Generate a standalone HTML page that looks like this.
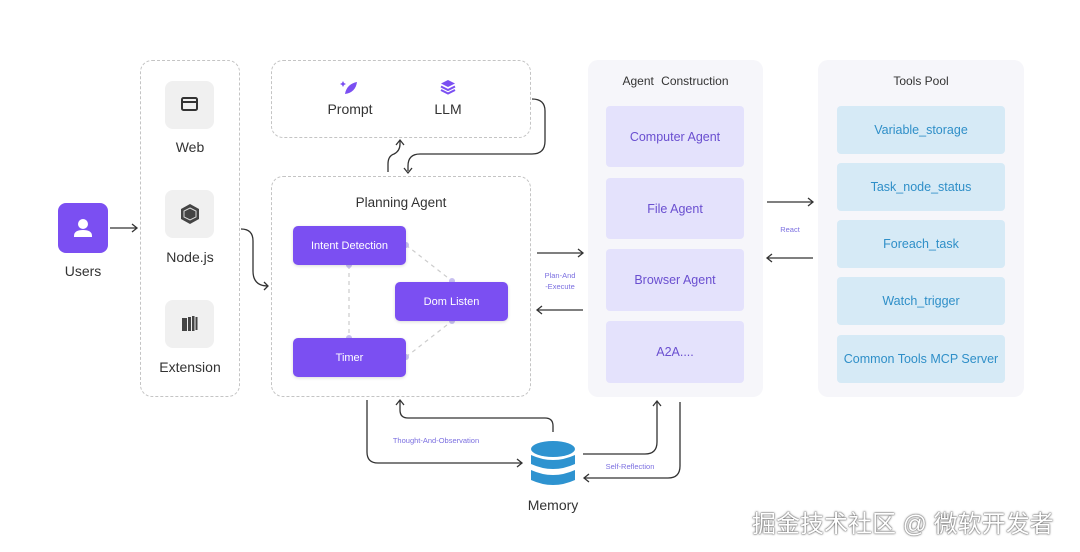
<!DOCTYPE html>
<html><head><meta charset="utf-8"><style>
body{margin:0;width:1080px;height:552px;background:#fff;position:relative;overflow:hidden;font-family:"Liberation Sans","Noto Sans CJK SC",sans-serif}
.a{position:absolute;box-sizing:border-box}
.dash{border:1.3px dashed #c4c4c4;border-radius:12px}
.t{position:absolute;text-align:center;color:#333}
.tile{background:#f0f0f0;border-radius:8px}
.pb{background:#7b4ff2;border-radius:5px;color:#fff;font-size:11px;display:flex;align-items:center;justify-content:center;box-shadow:0 1px 3px rgba(0,0,0,.15)}
.ag{background:#e4e2fc;border-radius:4px;color:#6a4fd0;font-size:12.5px;display:flex;align-items:center;justify-content:center}
.tl{background:#d6eaf6;border-radius:4px;color:#2f8fc8;font-size:12.5px;display:flex;align-items:center;justify-content:center}
.panel{background:#f6f6fa;border-radius:10px}
</style></head><body>
<div class="a" style="left:58px;top:203px;width:50px;height:50px;background:#7b4ff2;border-radius:8px"></div>
<svg class="a" style="left:58px;top:203px" width="50" height="50"><circle cx="25" cy="21" r="5" fill="#fff"/><path d="M16 33 q0-6 9-6 q9 0 9 6 v1 h-18z" fill="#fff"/></svg>
<div class="t" style="left:50px;width:66px;top:263px;font-size:14px">Users</div>

<div class="a dash" style="left:140px;top:60px;width:100px;height:337px"></div>
<div class="a tile" style="left:165px;top:81px;width:49px;height:48px"></div>
<svg class="a" style="left:180px;top:96px" width="20" height="18"><rect x="2" y="2" width="15" height="12" rx="1.5" fill="none" stroke="#333" stroke-width="2"/><line x1="2" y1="6" x2="17" y2="6" stroke="#333" stroke-width="2"/></svg>
<div class="t" style="left:150px;width:80px;top:139px;font-size:14px">Web</div>
<div class="a tile" style="left:165px;top:190px;width:49px;height:48px"></div>
<svg class="a" style="left:179px;top:203px" width="22" height="22"><polygon points="11,1 20,6 20,16 11,21 2,16 2,6" fill="#444"/><polygon points="11,5 17,8 17,14 11,17 5,14 5,8" fill="none" stroke="#ddd" stroke-width="1"/></svg>
<div class="t" style="left:150px;width:80px;top:249px;font-size:14px">Node.js</div>
<div class="a tile" style="left:165px;top:300px;width:49px;height:48px"></div>
<svg class="a" style="left:180px;top:314px" width="20" height="20"><rect x="2" y="4" width="5" height="13" fill="#444"/><rect x="8" y="3" width="3" height="14" fill="#444"/><rect x="12" y="2" width="2.5" height="15" fill="#444"/><rect x="15.5" y="3" width="2" height="13" fill="#444"/></svg>
<div class="t" style="left:140px;width:100px;top:359px;font-size:14px">Extension</div>

<div class="a dash" style="left:271px;top:60px;width:260px;height:78px"></div>
<svg class="a" style="left:340px;top:79px" width="20" height="18"><path d="M5 15 C6 8 11 4 17 3 C16 10 12 14 5 15z" fill="#7b4ff2"/><path d="M3 2 l1 2 2 1 -2 1 -1 2 -1-2 -2-1 2-1z" fill="#7b4ff2"/></svg>
<div class="t" style="left:310px;width:80px;top:101px;font-size:14px">Prompt</div>
<svg class="a" style="left:440px;top:79px" width="16" height="16"><path d="M8 1 L15 4.5 8 8 1 4.5z" fill="#7b4ff2"/><path d="M1 7.5 L8 11 15 7.5" fill="none" stroke="#7b4ff2" stroke-width="2"/><path d="M1 11 L8 14.5 15 11" fill="none" stroke="#7b4ff2" stroke-width="2"/></svg>
<div class="t" style="left:408px;width:80px;top:101px;font-size:14px">LLM</div>

<div class="a dash" style="left:271px;top:176px;width:260px;height:221px"></div>
<div class="t" style="left:271px;width:260px;top:195px;font-size:13.5px">Planning Agent</div>
<svg class="a" style="left:0;top:0" width="1080" height="552">
<g stroke="#ccc" stroke-width="1.2" stroke-dasharray="4 4" fill="none">
<line x1="349" y1="265" x2="349" y2="338"/><line x1="406" y1="245" x2="452" y2="281"/><line x1="406" y1="357" x2="452" y2="321"/></g>
<g fill="#c8c0f0"><circle cx="349" cy="265" r="3"/><circle cx="349" cy="338" r="3"/><circle cx="406" cy="245" r="3"/><circle cx="452" cy="281" r="3"/><circle cx="406" cy="357" r="3"/><circle cx="452" cy="321" r="3"/></g>
<g stroke="#333" stroke-width="1.3" fill="none">
<line x1="110" y1="228" x2="137" y2="228"/><path d="M132 224 L137 228 132 232"/>
<path d="M241 229 q12 0 12 12 v30 q0 15 15 15"/><path d="M264 282 L268 286 264 290"/>
<path d="M388 172 v-8 q0-8 6-10 q6-3 6-10 v-4"/><path d="M396 145 L400 140 404 145"/>
<path d="M532 99 q13 0 13 12 v30 q0 13 -13 13 h-112 q-12 0 -12 12 v5"/><path d="M404 168 L408 173 412 168"/>
<line x1="537" y1="253" x2="583" y2="253"/><path d="M578 249 L583 253 578 257"/>
<line x1="583" y1="310" x2="537" y2="310"/><path d="M542 306 L537 310 542 314"/>
<line x1="767" y1="202" x2="813" y2="202"/><path d="M808 198 L813 202 808 206"/>
<line x1="813" y1="258" x2="767" y2="258"/><path d="M772 254 L767 258 772 262"/>
<path d="M367 400 v52 q0 11 11 11 h144"/><path d="M517 459 L522 463 517 467"/>
<path d="M553 432 v-6 q0-8 -8-8 h-137 q-8 0 -8-8 v-10"/><path d="M396 405 L400 400 404 405"/>
<path d="M583 454 h62 q12 0 12-12 v-40"/><path d="M653 406 L657 401 661 406"/>
<path d="M680 402 v64 q0 12 -12 12 h-84"/><path d="M589 474 L584 478 589 482"/>
</g>
<g fill="#2e93d0"><ellipse cx="553" cy="449" rx="22" ry="8"/><path d="M531 455 q22 10 44 0 v9 q-22 10 -44 0z"/><path d="M531 470 q22 10 44 0 v10 q-22 10 -44 0z"/></g>
</svg>
<div class="a pb" style="left:293px;top:226px;width:113px;height:39px">Intent Detection</div>
<div class="a pb" style="left:395px;top:282px;width:113px;height:39px">Dom Listen</div>
<div class="a pb" style="left:293px;top:338px;width:113px;height:39px">Timer</div>
<div class="t" style="left:535px;width:50px;top:270px;font-size:7.5px;color:#7b6fe0;line-height:11px">Plan-And<br>-Execute</div>
<div class="t" style="left:770px;width:40px;top:225px;font-size:7.5px;color:#7b6fe0">React</div>
<div class="t" style="left:376px;width:120px;top:436px;font-size:7.5px;color:#7b6fe0">Thought-And-Observation</div>
<div class="t" style="left:595px;width:70px;top:462px;font-size:7.5px;color:#7b6fe0">Self-Reflection</div>
<div class="t" style="left:513px;width:80px;top:497px;font-size:14px">Memory</div>

<div class="a panel" style="left:588px;top:60px;width:175px;height:337px"></div>
<div class="t" style="left:588px;width:175px;top:74px;font-size:12px;word-spacing:4px">Agent Construction</div>
<div class="a ag" style="left:606px;top:106px;width:138px;height:61px">Computer Agent</div>
<div class="a ag" style="left:606px;top:178px;width:138px;height:61px">File Agent</div>
<div class="a ag" style="left:606px;top:249px;width:138px;height:62px">Browser Agent</div>
<div class="a ag" style="left:606px;top:321px;width:138px;height:62px">A2A....</div>

<div class="a panel" style="left:818px;top:60px;width:206px;height:337px"></div>
<div class="t" style="left:818px;width:206px;top:74px;font-size:12px">Tools Pool</div>
<div class="a tl" style="left:837px;top:106px;width:168px;height:48px">Variable_storage</div>
<div class="a tl" style="left:837px;top:163px;width:168px;height:48px">Task_node_status</div>
<div class="a tl" style="left:837px;top:220px;width:168px;height:48px">Foreach_task</div>
<div class="a tl" style="left:837px;top:277px;width:168px;height:48px">Watch_trigger</div>
<div class="a tl" style="left:837px;top:335px;width:168px;height:48px">Common Tools MCP Server</div>

<div class="t" style="left:752px;width:330px;top:504px;font-size:24px;color:#fff;text-shadow:0 0 2px #555,0 0 1px #333;text-align:left;white-space:nowrap">掘金技术社区 @ 微软开发者</div>
</body></html>
